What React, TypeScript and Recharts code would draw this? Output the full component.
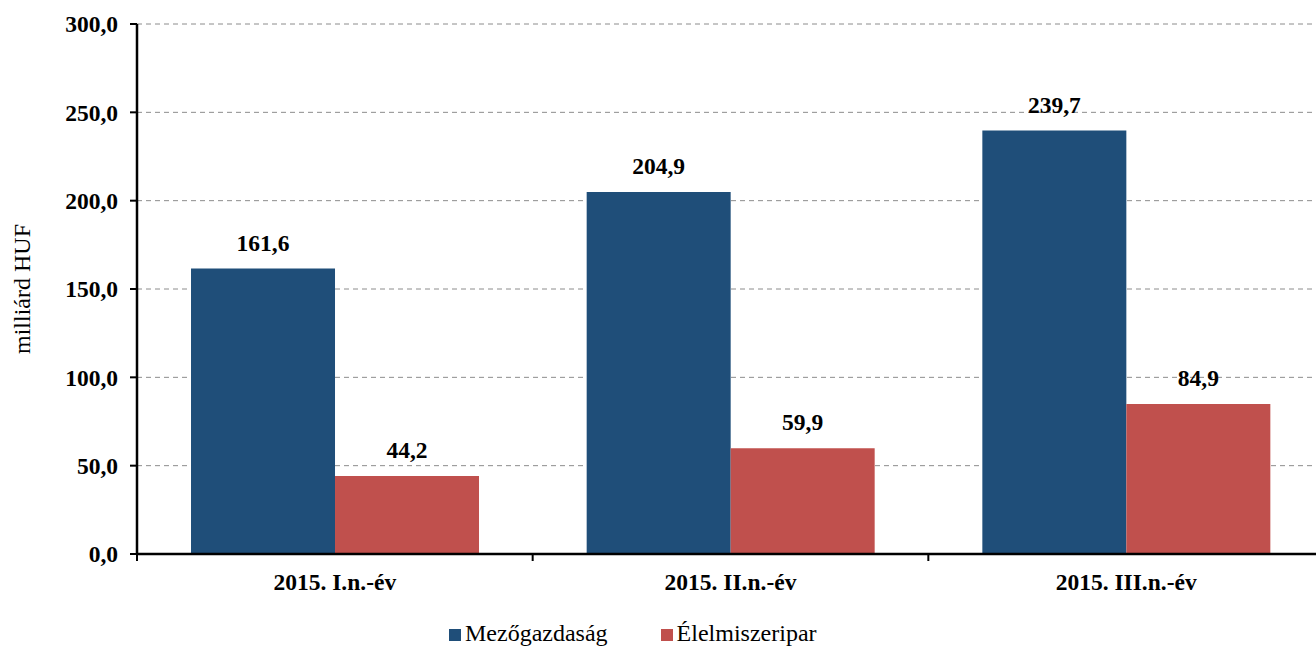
import React from 'react';
import { BarChart, Bar, XAxis, YAxis, CartesianGrid, Legend, LabelList } from 'recharts';

const periods = ['2015. I.n.-év', '2015. II.n.-év', '2015. III.n.-év'];
const agriculture = [161.6, 204.9, 239.7];
const foodIndustry = [44.2, 59.9, 84.9];
const yTicks = [0, 50, 100, 150, 200, 250, 300];

const seriesNames = { agri: 'Mezőgazdaság', food: 'Élelmiszeripar' };
const colors = { agri: '#1F4E79', food: '#C0504D' };

const data = periods.map((p, i) => ({ period: p, agri: agriculture[i], food: foodIndustry[i] }));

const FONT = "'Liberation Serif', Tinos, 'Times New Roman', 'DejaVu Serif', serif";

// comma as decimal separator, one digit
const fmt = (v: number) => v.toFixed(1).replace('.', ',');

const CategoryTick = (props: any) => {
  const { x, y, payload } = props;
  const half = payload?.offset ?? 0;
  return (
    <g>
      <line x1={x - half} x2={x - half} y1={y} y2={y + 7} stroke="#000" strokeWidth={2} />
      <text x={x} y={y + 36} textAnchor="middle" style={{ fontFamily: FONT }} fontSize={23.5} fontWeight="bold" fill="#000">
        {payload.value}
      </text>
    </g>
  );
};

const LegendContent = () => (
  <div style={{ display: 'flex', alignItems: 'center', paddingLeft: 449, paddingTop: 16, height: 26, fontFamily: FONT, fontSize: 24, color: '#000' }}>
    {(['agri', 'food'] as const).map((k, i) => (
      <div key={k} style={{ display: 'flex', alignItems: 'center', marginRight: i === 0 ? 53 : 0 }}>
        <span style={{ display: 'inline-block', width: 12, height: 12, background: colors[k], marginRight: 4, marginTop: 4 }} />
        <span style={{ lineHeight: '26px' }}>{seriesNames[k]}</span>
      </div>
    ))}
  </div>
);

const labelStyle = { fontFamily: FONT, fontSize: 23.5, fontWeight: 'bold', fill: '#000' } as const;

export default function App() {
  return (
    <div style={{ position: 'absolute', left: 0, top: 0, width: 1316, height: 646, overflow: 'hidden', background: '#fff', fontFamily: FONT }}>
      {/* plot runs a few px past the right edge, like the original */}
      <BarChart
        width={1324}
        height={646}
        data={data}
        margin={{ top: 24, right: 0, bottom: 0, left: 0 }}
        barCategoryGap="13.65%"
        barGap={0}
      >
        <CartesianGrid vertical={false} stroke="#8c8c8c" strokeDasharray="5 4" />
        <XAxis
          dataKey="period"
          height={50}
          axisLine={{ stroke: '#000', strokeWidth: 2.5 }}
          tickLine={false}
          tickSize={0}
          tickMargin={0}
          interval={0}
          tick={<CategoryTick />}
        />
        <YAxis
          width={137}
          domain={[0, 300]}
          ticks={yTicks}
          interval={0}
          tickFormatter={fmt}
          axisLine={{ stroke: '#000', strokeWidth: 2.5 }}
          tickLine={{ stroke: '#000', strokeWidth: 2 }}
          tickSize={7}
          tickMargin={12}
          tick={labelStyle}
          label={{
            content: (p: any) => {
              const vb = p.viewBox || {};
              const cy = (vb.y ?? 24) + (vb.height ?? 530) / 2;
              return (
                <text x={22} y={cy} transform={`rotate(-90, 22, ${cy})`} textAnchor="middle" dominantBaseline="central" style={{ fontFamily: FONT }} fontSize={24} fill="#000">
                  milliárd HUF
                </text>
              );
            },
          }}
        />
        <Legend verticalAlign="bottom" height={42} content={<LegendContent />} />
        <Bar dataKey="agri" name={seriesNames.agri} fill={colors.agri} isAnimationActive={false}>
          <LabelList dataKey="agri" position="top" offset={18} formatter={(v: any) => fmt(Number(v))} style={labelStyle} />
        </Bar>
        <Bar dataKey="food" name={seriesNames.food} fill={colors.food} isAnimationActive={false}>
          <LabelList dataKey="food" position="top" offset={18} formatter={(v: any) => fmt(Number(v))} style={labelStyle} />
        </Bar>
      </BarChart>
    </div>
  );
}
